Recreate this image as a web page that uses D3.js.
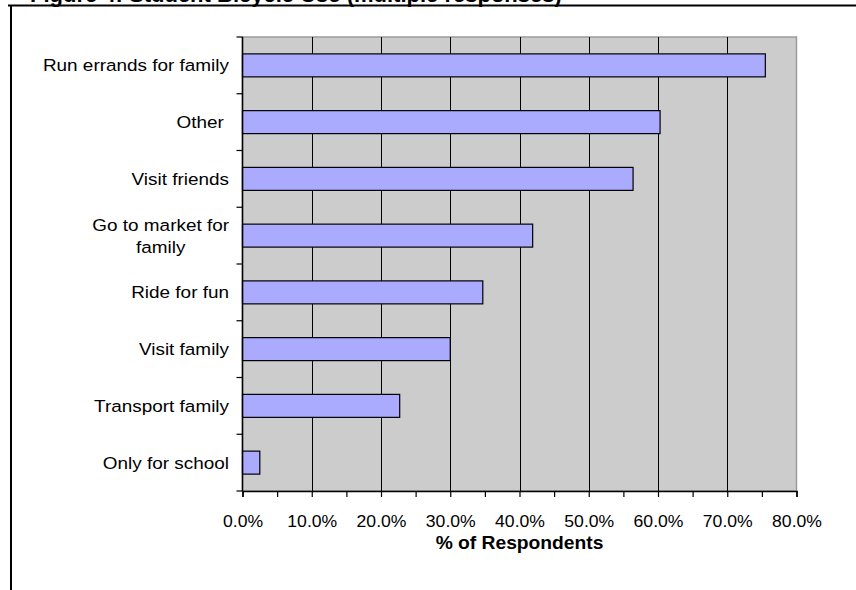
<!DOCTYPE html>
<html>
<head>
<meta charset="utf-8">
<script src="https://cdn.jsdelivr.net/npm/d3@7/dist/d3.min.js"></script>
<style>
  html, body { margin: 0; padding: 0; background: #fff; }
  svg { display: block; font-family: Arial, "Liberation Sans", sans-serif; }
</style>
</head>
<body>
<svg id="chart" width="856" height="590"></svg>
<script>
// Reasons students give for using a bicycle (multiple responses allowed)
const categories = [
  "Run errands for family",
  "Other ",
  "Visit friends",
  "Go to market for family",
  "Ride for fun",
  "Visit family",
  "Transport family",
  "Only for school"
];
const percentages = [75.5, 60.3, 56.4, 41.9, 34.7, 30.0, 22.7, 2.5];
const xTickValues = [0, 5, 10, 15, 20, 25, 30, 35, 40, 45, 50, 55, 60, 65, 70, 75, 80];
const gridValues = [10, 20, 30, 40, 50, 60, 70];
const titleText = "Figure 4: Student Bicycle Use (multiple responses)";
const axisTitle = "% of Respondents";

const svg = d3.select("#chart");
const plot = { left: 242.5, right: 796.5, top: 37, bottom: 491 };
const stretch = 1.1; // text is drawn slightly widened

// place a text at (tx, ty) with horizontal widening around its anchor
function placeText(sel, tx, ty) {
  return sel.attr("x", 0).attr("y", 0)
    .attr("transform", `translate(${tx},${ty}) scale(${stretch},1)`);
}

// Figure frame and (clipped) caption above it
svg.append("text")
  .attr("x", 30).attr("y", 2)
  .attr("font-size", 22).attr("font-weight", "bold")
  .text(titleText);
svg.append("line")
  .attr("x1", 8).attr("x2", 856).attr("y1", 5.5).attr("y2", 5.5)
  .attr("stroke", "#000").attr("stroke-width", 2);
svg.append("line")
  .attr("x1", 11).attr("x2", 11).attr("y1", 5).attr("y2", 590)
  .attr("stroke", "#000").attr("stroke-width", 2);

const x = d3.scaleLinear().domain([0, 80]).range([plot.left, plot.right]);
const y = d3.scaleBand()
  .domain(categories)
  .range([plot.top, plot.bottom])
  .paddingInner(0.595)
  .paddingOuter(0.2975);
const slot = d3.scaleBand().domain(categories).range([plot.top, plot.bottom]);

// Plot area background
svg.append("rect")
  .attr("x", plot.left).attr("y", plot.top)
  .attr("width", plot.right - plot.left).attr("height", plot.bottom - plot.top)
  .attr("fill", "#cccccc").attr("stroke", "#9a9a9a").attr("stroke-width", 1.5);

// Vertical gridlines
svg.append("g").selectAll("line").data(gridValues).join("line")
  .attr("x1", d => Math.round(x(d)) + 0.5).attr("x2", d => Math.round(x(d)) + 0.5)
  .attr("y1", plot.top).attr("y2", plot.bottom)
  .attr("stroke", "#000").attr("stroke-width", 1);

// Bars
svg.append("g").selectAll("rect").data(percentages).join("rect")
  .attr("x", x(0))
  .attr("y", (d, i) => y(categories[i]))
  .attr("width", d => x(d) - x(0))
  .attr("height", y.bandwidth())
  .attr("fill", "#aaaaff")
  .attr("stroke", "#000").attr("stroke-width", 1.2);

// Bottom axis with minor ticks at every 5%
const xAxis = d3.axisBottom(x)
  .tickValues(xTickValues)
  .tickSize(6)
  .tickFormat(d => d % 10 === 0 ? d.toFixed(1) + "%" : "");
const gx = svg.append("g").attr("transform", `translate(0,${plot.bottom})`).call(xAxis);
gx.select(".domain").attr("stroke", "#000").attr("stroke-width", 1.5);
gx.selectAll(".tick line").attr("stroke", "#000").attr("stroke-width", 1.2);
gx.selectAll(".tick text")
  .attr("font-size", 16).attr("fill", "#000")
  .attr("font-family", "Arial, 'Liberation Sans', sans-serif")
  .attr("dy", null)
  .call(s => placeText(s, 0, 35.5));

// Left axis line with ticks between categories
svg.append("line")
  .attr("x1", plot.left).attr("x2", plot.left)
  .attr("y1", plot.top).attr("y2", plot.bottom)
  .attr("stroke", "#000").attr("stroke-width", 1.5);
const boundaries = categories.map(c => slot(c)).concat([plot.bottom]);
svg.append("g").selectAll("line").data(boundaries).join("line")
  .attr("x1", plot.left - 6).attr("x2", plot.left)
  .attr("y1", d => d).attr("y2", d => d)
  .attr("stroke", "#000").attr("stroke-width", 1.2);

// Category labels (long ones wrap onto two centred lines)
const wrapped = { "Go to market for family": ["Go to market for", "family"] };
const labelG = svg.append("g").attr("font-size", 17.2).attr("fill", "#000");
categories.forEach(c => {
  const cy = slot(c) + slot.bandwidth() / 2;
  const lines = wrapped[c];
  if (!lines) {
    labelG.append("text")
      .attr("text-anchor", "end")
      .attr("xml:space", "preserve")
      .text(c)
      .call(s => placeText(s, 229, cy + 6));
  } else {
    const t = labelG.append("text")
      .attr("text-anchor", "end")
      .text(lines[0])
      .call(s => placeText(s, 229, cy - 5));
    const w = t.node().getComputedTextLength() * stretch;
    labelG.append("text")
      .attr("text-anchor", "middle")
      .text(lines[1])
      .call(s => placeText(s, 229 - w / 2, cy + 17));
  }
});

// Axis title
svg.append("text")
  .attr("text-anchor", "middle")
  .attr("font-size", 17.5).attr("font-weight", "bold")
  .text(axisTitle)
  .call(s => placeText(s, (plot.left + plot.right) / 2, 549));
</script>
</body>
</html>
